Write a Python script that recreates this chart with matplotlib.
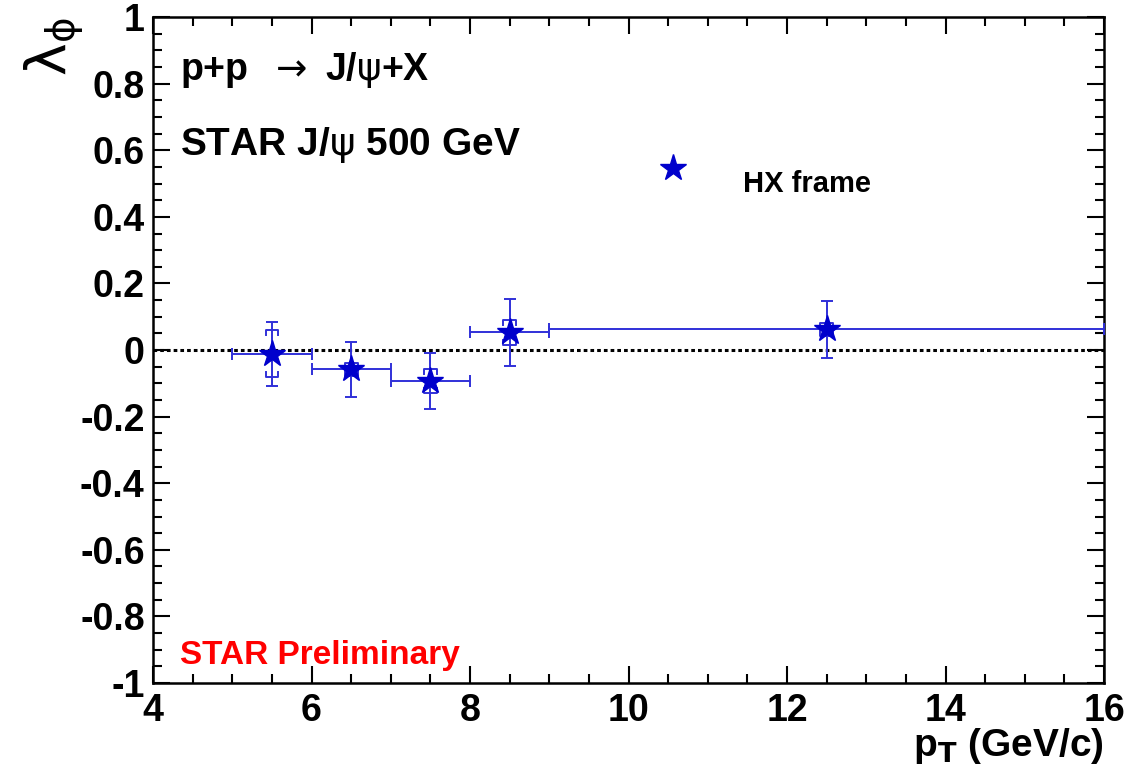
import matplotlib
matplotlib.use('Agg')
import matplotlib.pyplot as plt
from matplotlib.ticker import MultipleLocator, FuncFormatter

plt.rcParams['font.family'] = ['Liberation Sans', 'DejaVu Sans']
plt.rcParams['mathtext.fontset'] = 'dejavusans'
plt.rcParams['axes.unicode_minus'] = False

# lambda_phi vs pT, HX frame
pt = [5.5, 6.5, 7.5, 8.5, 12.5]
pt_lo = [0.5, 0.5, 0.5, 0.5, 3.5]
pt_hi = [0.5, 0.5, 0.5, 0.5, 3.5]
lam_phi = [-0.011, -0.058, -0.092, 0.053, 0.062]
stat_err = [0.096, 0.083, 0.084, 0.100, 0.085]
sys_err = [0.070, 0.020, 0.036, 0.037, 0.020]

frame_label = 'HX frame'
blue = '#0000cc'
ebar = '#3030d8'

fig = plt.figure(figsize=(11.27, 7.77), dpi=100)
ax = fig.add_axes([0.1358, 0.121, 0.8438, 0.857])

ax.axhline(0, color='black', lw=2.2, ls=(0, (1.2, 1.0)), zorder=1)

# systematic brackets
dx = 0.08
dy = 0.015
for x, y, s in zip(pt, lam_phi, sys_err):
    top = y + s
    bot = y - s
    ax.plot([x - dx, x - dx, x + dx, x + dx], [top - dy, top, top, top - dy],
            color=ebar, lw=1.4, zorder=2)
    ax.plot([x - dx, x - dx, x + dx, x + dx], [bot + dy, bot, bot, bot + dy],
            color=ebar, lw=1.4, zorder=2)

ax.errorbar(pt, lam_phi, xerr=[pt_lo, pt_hi], yerr=stat_err, fmt='none',
            ecolor=ebar, elinewidth=1.4, capsize=4.5, capthick=1.4,
            zorder=3, clip_on=False)
ax.plot(pt, lam_phi, ls='none', marker='*', ms=20, color=blue,
        markeredgecolor=blue, zorder=4)

# legend entry
ax.plot(0.547, 0.773, marker='*', ms=20, color=blue, transform=ax.transAxes,
        clip_on=False)
ax.text(0.620, 0.749, frame_label, transform=ax.transAxes, fontsize=21,
        fontweight='bold', va='center', ha='left')

ax.text(0.028, 0.920, r'p+p  $\mathrm{\rightarrow}$ J/$\mathrm{\psi}$+X', transform=ax.transAxes,
        fontsize=27, fontweight='bold', va='center', ha='left')
ax.text(0.028, 0.808, r'STAR J/$\mathrm{\psi}$ 500 GeV', transform=ax.transAxes,
        fontsize=28, fontweight='bold', va='center', ha='left')
ax.text(0.028, 0.042, 'STAR Preliminary', transform=ax.transAxes,
        fontsize=24, fontweight='bold', color='#ff0000', va='center', ha='left')

ax.set_xlim(4, 16)
ax.set_ylim(-1, 1)
ax.xaxis.set_major_locator(MultipleLocator(2))
ax.xaxis.set_minor_locator(MultipleLocator(0.5))
ax.yaxis.set_major_locator(MultipleLocator(0.2))
ax.yaxis.set_minor_locator(MultipleLocator(0.05))
fmt = FuncFormatter(lambda v, p: '%g' % round(v, 3))
ax.xaxis.set_major_formatter(fmt)
ax.yaxis.set_major_formatter(fmt)

ax.tick_params(which='both', direction='in', top=True, right=True, width=1.5,
               labelsize=27)
ax.tick_params(which='major', length=12)
ax.tick_params(which='minor', length=6.5)
ax.tick_params(axis='y', pad=6)
ax.tick_params(axis='x', pad=7)
for lbl in ax.get_xticklabels() + ax.get_yticklabels():
    lbl.set_fontweight('bold')
for sp in ax.spines.values():
    sp.set_linewidth(1.8)

ax.set_xlabel(r'p$_{\mathbf{T}}$ (GeV/c)', fontsize=28, fontweight='bold', loc='right')
ax.xaxis.set_label_coords(1.0, -0.064)
ax.set_ylabel(r'$\mathrm{\lambda}_{\mathrm{\phi}}$', fontsize=40, fontweight='normal',
              loc='top')
ax.yaxis.set_label_coords(-0.072, 1.0)

fig.savefig('out.png', dpi=100)
